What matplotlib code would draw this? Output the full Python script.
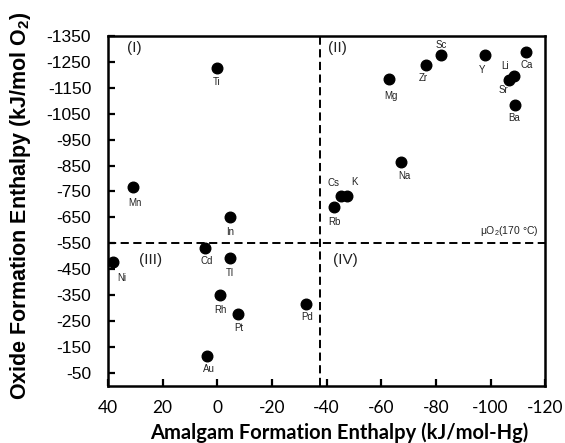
import matplotlib.pyplot as plt

plt.rcParams['font.family'] = ['Liberation Sans', 'DejaVu Sans']
plt.rcParams['axes.unicode_minus'] = False
plt.rcParams['mathtext.fontset'] = 'custom'
plt.rcParams['mathtext.rm'] = 'Liberation Sans'
plt.rcParams['mathtext.bf'] = 'Liberation Sans:bold'

# metals, amalgam enthalpy (kJ/mol-Hg), oxide enthalpy (kJ/mol O2)
metals = ['Ti', 'Mn', 'In', 'Cd', 'Tl', 'Ni', 'Rh', 'Pt', 'Pd', 'Au',
          'Sc', 'Zr', 'Mg', 'Y', 'Ca', 'Li', 'Sr', 'Ba', 'Na', 'Cs', 'K', 'Rb']
amalgam_h = [0.2, 31, -4.7, 4.5, -4.7, 38.3, -1, -7.7, -32.4, 3.9,
             -81.8, -76.3, -63, -97.8, -113, -108.4, -106.6, -108.8, -67.2, -45.2, -47.4, -42.9]
oxide_h = [-1227, -767, -653, -530, -494, -478, -352, -278, -316, -116,
           -1277, -1236, -1184, -1277, -1288, -1197, -1180, -1084, -862, -732, -732, -688]
# label offsets in pixels (dx, dy), dy positive = downwards
label_off = [(0, 14), (2, 16), (0, 15), (2, 13), (0, 15), (9, 16), (0, 15), (1, 14), (1, 13), (2, 13),
             (0, -10), (-2, 13), (2, 17), (-2, 15), (1, 13), (-9, -10), (-5, 10), (0, 13), (3, 14),
             (-7, -13), (8, -14), (0, 15)]

split_x = -37.6       # vertical divider
split_y = -550        # mu O2 at 170 C
quadrants = ['(I)', '(II)', '(III)', '(IV)']
quad_pos = [(33, -1305), (-40.5, -1305), (28.5, -484), (-42.5, -484)]

fig = plt.figure(figsize=(5.65, 4.43), dpi=100)
ax = fig.add_axes([0.191, 0.129, 0.774, 0.79])

ax.scatter(amalgam_h, oxide_h, s=58, color='black', zorder=3)
for name, x, y, (dx, dy) in zip(metals, amalgam_h, oxide_h, label_off):
    ax.annotate(name, (x, y), xytext=(dx, -dy), textcoords='offset pixels',
                ha='center', va='center', fontsize=7, color='#222222')

ax.axvline(split_x, color='black', lw=1.4, ls=(0, (4.2, 2.3)), zorder=1)
ax.axhline(split_y, color='black', lw=1.4, ls=(0, (4.2, 2.3)), zorder=1)
ax.text(0.985, split_y - 22, r'μO$_2$(170 °C)', transform=ax.get_yaxis_transform(),
        ha='right', va='bottom', fontsize=7.5, color='#222222')

for q, (qx, qy) in zip(quadrants, quad_pos):
    ax.text(qx, qy, q, ha='left', va='center', fontsize=11, color='#222222')

ax.set_xlim(40, -120)
ax.set_ylim(0, -1350)
ax.set_xticks(range(40, -121, -20))
ax.set_yticks(range(-1350, 0, 100))

for s in ax.spines.values():
    s.set_linewidth(1.8)
ax.tick_params(direction='in', length=5, width=1.6, pad=11)
for t in ax.get_yticklabels():
    t.set_fontfamily('Liberation Sans')
    t.set_fontsize(12.5)
for t in ax.get_xticklabels():
    t.set_fontfamily('Lato')
    t.set_fontsize(12.5)
ax.tick_params(axis='y', pad=12)
ax.tick_params(axis='x', pad=10)

ax.set_ylabel(r'Oxide Formation Enthalpy (kJ/mol O$_\mathbf{2}$)', fontsize=15.5,
              fontweight='bold', fontfamily='Liberation Sans')
ax.yaxis.set_label_coords(-0.172, 0.514)
ax.set_xlabel('Amalgam Formation Enthalpy (kJ/mol-Hg)', fontsize=14.5,
              fontweight='bold', fontfamily='Lato')
ax.xaxis.set_label_coords(0.529, -0.105)

fig.savefig('out.png', dpi=100)
